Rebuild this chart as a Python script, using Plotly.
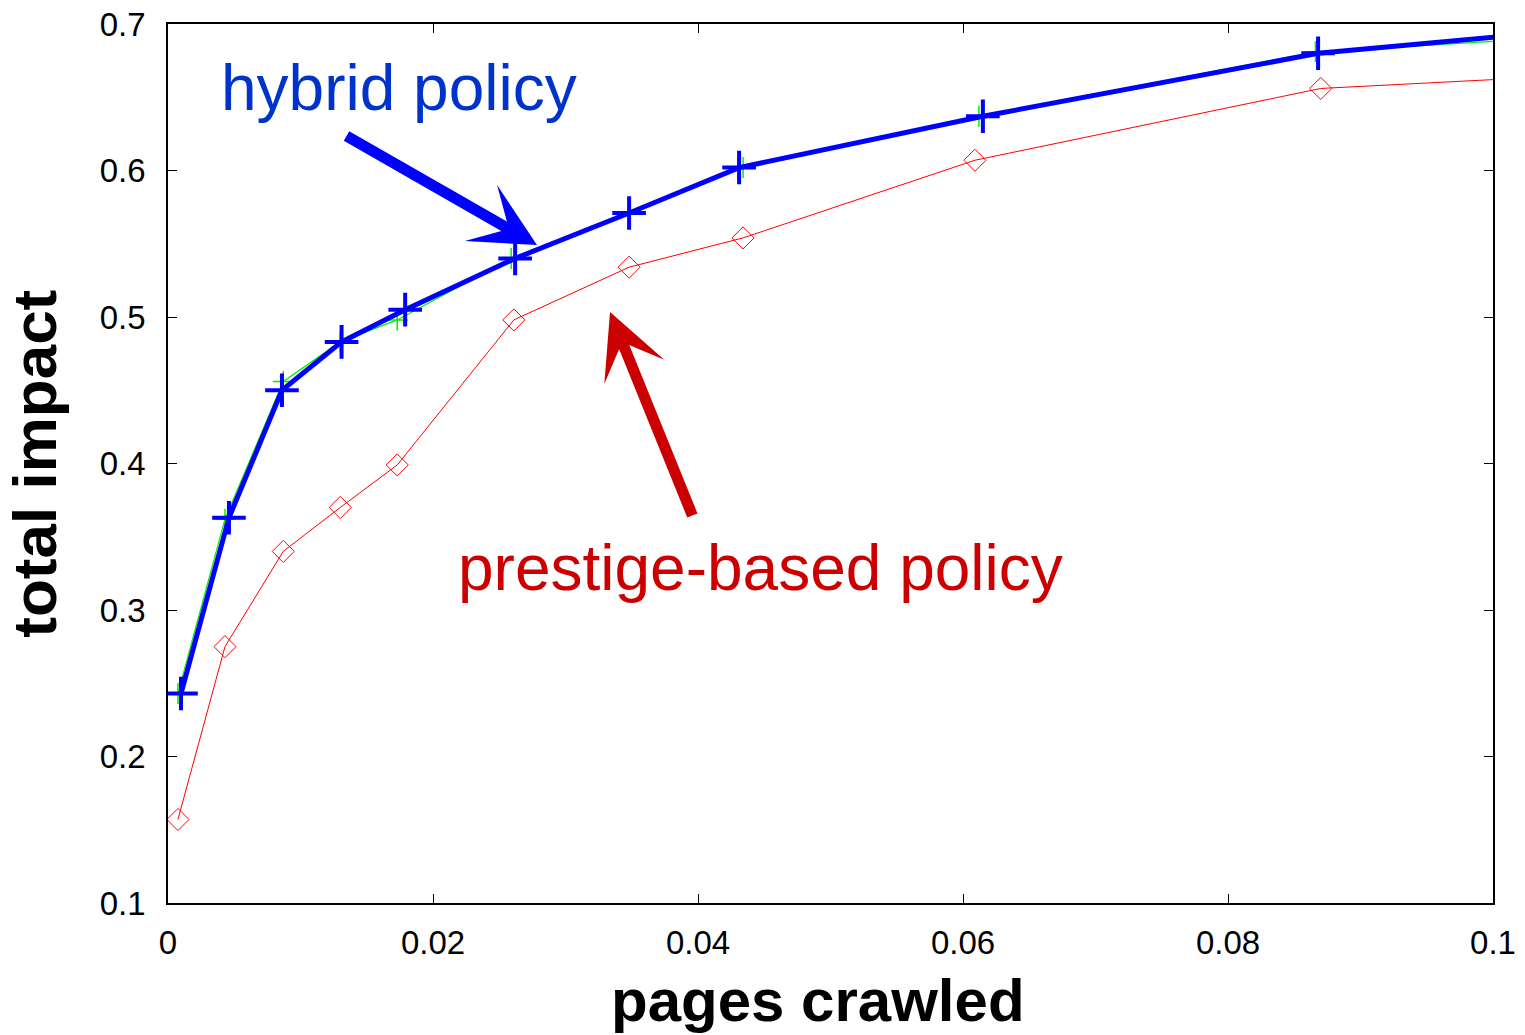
import plotly.graph_objects as go

# Fraction of pages crawled vs. total impact for three ordering policies
prestige_x = [0.00075, 0.0043, 0.0087, 0.0130, 0.0173, 0.0261, 0.0348, 0.0434, 0.0609, 0.0870, 0.13]
prestige_y = [0.157, 0.275, 0.340, 0.370, 0.399, 0.498, 0.534, 0.554, 0.607, 0.656, 0.676]

green_x = [0.00075, 0.0043, 0.0087, 0.0130, 0.0173, 0.0259, 0.0348, 0.0434, 0.0612, 0.0866, 0.13]
green_y = [0.243, 0.362, 0.456, 0.483, 0.498, 0.540, 0.571, 0.602, 0.637, 0.681, 0.704]

hybrid_x = [0.00098, 0.0046, 0.0086, 0.0131, 0.0179, 0.0262, 0.0348, 0.0431, 0.0615, 0.0868, 0.13]
hybrid_y = [0.243, 0.363, 0.450, 0.483, 0.505, 0.540, 0.571, 0.602, 0.637, 0.680, 0.716]

x_ticks = [0, 0.02, 0.04, 0.06, 0.08, 0.1]
x_tick_text = ["0", "0.02", "0.04", "0.06", "0.08", "0.1"]
y_ticks = [0.1, 0.2, 0.3, 0.4, 0.5, 0.6, 0.7]
y_tick_text = ["0.1", "0.2", "0.3", "0.4", "0.5", "0.6", "0.7"]

FONT = "Liberation Sans, Arial, Helvetica, sans-serif"

fig = go.Figure()

fig.add_trace(go.Scatter(
    x=prestige_x, y=prestige_y, mode="lines+markers",
    line=dict(color="#ff0000", width=1),
    marker=dict(symbol="diamond-open", size=17, color="#ff0000", line=dict(width=1)),
    showlegend=False,
))
fig.add_trace(go.Scatter(
    x=green_x, y=green_y, mode="lines+markers",
    line=dict(color="#00ee00", width=1.2),
    marker=dict(symbol="cross-thin", size=15, line=dict(width=1.5, color="#00ee00")),
    showlegend=False,
))
fig.add_trace(go.Scatter(
    x=hybrid_x, y=hybrid_y, mode="lines+markers",
    line=dict(color="#0000ff", width=5),
    marker=dict(symbol="cross-thin", size=24, line=dict(width=4, color="#0000ff")),
    showlegend=False,
))

# Callout labels
fig.add_annotation(
    x=0.00385, y=0.6562, xref="x", yref="y", text="hybrid policy",
    showarrow=False, xanchor="left", yanchor="middle",
    font=dict(family=FONT, size=64, color="#0033cc"),
)
fig.add_annotation(
    x=0.02170, y=0.3287, xref="x", yref="y", text="prestige-based policy",
    showarrow=False, xanchor="left", yanchor="middle",
    font=dict(family=FONT, size=64, color="#cc0000"),
)

# Callout arrows
fig.add_annotation(
    x=0.02785, y=0.5491, ax=0.01336, ay=0.6242,
    xref="x", yref="y", axref="x", ayref="y", text="",
    showarrow=True, arrowhead=3, arrowsize=0.98, arrowwidth=11, arrowcolor="#0000ff",
)
fig.add_annotation(
    x=0.03336, y=0.5034, ax=0.03962, ay=0.3635,
    xref="x", yref="y", axref="x", ayref="y", text="",
    showarrow=True, arrowhead=3, arrowsize=0.98, arrowwidth=11, arrowcolor="#cc0000",
)

# Axis titles
fig.add_annotation(
    x=0.4906, y=-0.111, xref="paper", yref="paper", text="<b>pages crawled</b>",
    showarrow=False, xanchor="center", yanchor="middle",
    font=dict(family=FONT, size=60, color="#000000"),
)
fig.add_annotation(
    x=-0.101, y=0.5, xref="paper", yref="paper", text="<b>total impact</b>",
    showarrow=False, xanchor="center", yanchor="middle", textangle=-90,
    font=dict(family=FONT, size=62, color="#000000"),
)

axis_common = dict(
    showgrid=False, zeroline=False, automargin=False,
    showline=True, linecolor="#000000", linewidth=1.5, mirror="ticks",
    ticks="inside", ticklen=9, tickwidth=1, tickcolor="#000000",
    tickfont=dict(family=FONT, size=33, color="#000000"),
)

fig.update_xaxes(
    range=[0, 0.1], tickvals=x_ticks, ticktext=x_tick_text,
    ticklabelstandoff=10,
    **axis_common,
)
fig.update_yaxes(
    range=[0.1, 0.7], tickvals=y_ticks, ticktext=y_tick_text,
    ticklabelstandoff=14,
    **axis_common,
)

fig.update_layout(
    width=1525, height=1035,
    margin=dict(l=168, r=32, t=24, b=132),
    paper_bgcolor="#ffffff", plot_bgcolor="#ffffff",
)

fig.write_html("out.html")
